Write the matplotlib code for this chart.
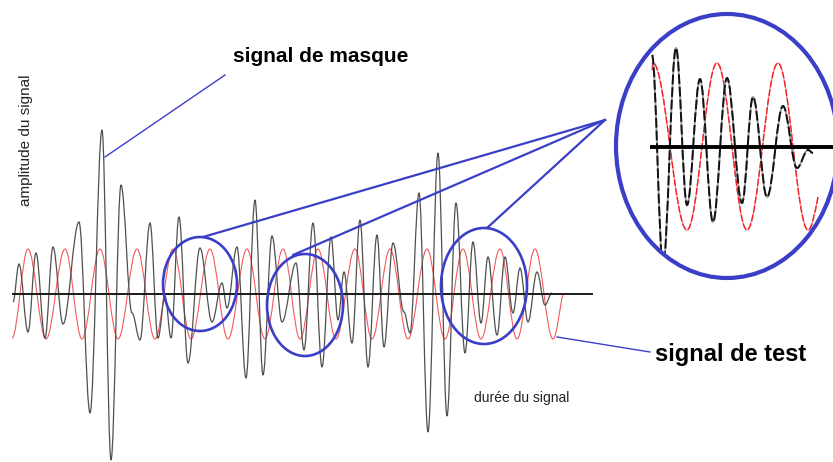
# -*- coding:utf-8 -*-
# schéma : signal de masque / signal de test, avec zoom dans un cercle

import matplotlib
matplotlib.use('Agg')
from matplotlib import pyplot as plt
from matplotlib.path import Path
from matplotlib.patches import PathPatch, Ellipse

# signal de masque : extrema (temps, amplitude)
masque_t = [13, 19, 28, 36, 45, 53, 63, 79, 90, 102, 111, 121, 132, 140, 150, 158, 165, 171,
            179, 188, 200, 212, 222, 227, 237, 246, 255, 263, 272, 282, 296, 304, 313, 322,
            331, 338, 344, 352, 360, 368, 377, 384, 393, 404, 410, 419, 428, 438, 447, 456,
            465, 473, 481, 488, 497, 505, 513, 520, 528, 537, 545, 552]
masque_a = [-8, 30, -38, 41, -44, 47, -30, 72, -119, 164, -166, 109, -19, -46, 71, -44, -2, -44,
            77, -69, 46, -28, 11, -14, 47, -84, 94, -81, 58, -28, 31, -56, 71, -73,
            57, -26, 22, -49, 74, -73, 59, -53, 51, -18, -39, 101, -138, 141, -122, 91,
            -59, 52, -29, 37, -41, 37, -19, 26, -28, 22, -11, 1]

# signal de test : extrema (temps, amplitude)
test_t = [12, 28, 46, 65, 82, 100, 118, 137, 155, 173, 191, 210, 228, 247, 265, 283, 300,
          318, 336, 355, 372, 390, 408, 427, 445, 463, 481, 500, 517, 535, 553, 563]
test_a = [-44, 45, -45, 45, -45, 45, -45, 45, -45, 45, -45, 45, -45, 45, -45, 45, -45,
          45, -45, 45, -45, 45, -45, 45, -45, 45, -45, 45, -45, 45, -45, 0]

# agrandissement (dans le grand cercle)
zoom_masque_t = [652, 663, 676, 687, 700, 713, 727, 742, 753, 767, 783, 797, 808, 813]
zoom_masque_a = [92, -118, 99, -58, 68, -75, 69, -56, 50, -50, 41, -21, -3, -6]
zoom_test_t = [652, 653, 687, 717, 747, 778, 808, 818]
zoom_test_a = [77, 84, -83, 84, -83, 84, -83, -50]

BLEU = '#3b3fc8'


# courbe lisse passant par les extrema (tangentes horizontales)
def smooth_path(xs, ys, k=0.364, end_slope=None):
	verts = [(xs[0], ys[0])]
	codes = [Path.MOVETO]
	for i in range(1, len(xs)):
		dx = xs[i] - xs[i-1]
		c2 = (xs[i] - k*dx, ys[i])
		if end_slope is not None and i == len(xs) - 1:
			c2 = (xs[i] - k*dx, ys[i] - k*dx*end_slope)
		verts += [(xs[i-1] + k*dx, ys[i-1]), c2, (xs[i], ys[i])]
		codes += [Path.CURVE4]*3
	return Path(verts, codes)


def draw():
	fig = plt.figure(figsize=(8.33, 4.62), dpi=100)
	ax = fig.add_axes([0, 0, 1, 1])
	ax.set_xlim(0, 833)
	ax.set_ylim(-168, 294)
	ax.axis('off')

	# signaux principaux
	ax.add_patch(PathPatch(smooth_path(test_t, test_a, end_slope=3.9), fill=False,
	                       edgecolor='#f25a5a', lw=0.8, zorder=2))
	ax.add_patch(PathPatch(smooth_path(masque_t, masque_a), fill=False,
	                       edgecolor='#505050', lw=0.9, zorder=3))
	ax.plot([13, 592], [0, 0], color='#1a1a1a', lw=1.4, zorder=4)

	# cercles de sélection
	for c, w, h in [((200, 10), 74, 94), ((305, -11), 76, 102), ((484, 8), 86, 116)]:
		ax.add_patch(Ellipse(c, w, h, fill=False, edgecolor=BLEU, lw=1.9, zorder=5))

	# lignes vers l'agrandissement
	apex = (605, 174)
	for p in [(203, 57), (293, 39), (487, 66)]:
		ax.plot([p[0], apex[0]], [p[1], apex[1]], color=BLEU, lw=1.6, zorder=5)

	# grand cercle avec l'agrandissement
	big = Ellipse((727, 148), 222, 264, fill=False, edgecolor=BLEU, lw=3.0, zorder=6)
	ax.add_patch(big)
	clip = Ellipse((727, 148), 218, 260, transform=ax.transData)
	zb = 147
	red_path = smooth_path(zoom_test_t, [zb + a for a in zoom_test_a], end_slope=5)
	blk_path = smooth_path(zoom_masque_t, [zb + a for a in zoom_masque_a])
	patches = [
		PathPatch(red_path, fill=False, edgecolor='#f7a0a0', lw=1.0, zorder=4),
		PathPatch(red_path, fill=False, edgecolor='#f02020', lw=1.0, zorder=4,
		          linestyle=(0, (5, 1.5))),
		PathPatch(blk_path, fill=False, edgecolor='#9a9a9a', lw=1.3, zorder=5),
		PathPatch(blk_path, fill=False, edgecolor='#111111', lw=1.4, zorder=5,
		          linestyle=(0, (5, 1.5))),
	]
	for p in patches:
		ax.add_patch(p)
		p.set_clip_path(clip)
	ax.plot([652, 833], [zb, zb], color='black', lw=2.8, zorder=5)

	# étiquettes
	ax.plot([105, 225], [137, 219], color=BLEU, lw=1.0, zorder=5)
	ax.text(321, 237, 'signal de masque', fontsize=15, fontweight='bold',
	        family='Liberation Sans', ha='center', va='center')
	ax.plot([557, 650], [-43, -58], color=BLEU, lw=1.0, zorder=5)
	ax.text(731, -61, 'signal de test', fontsize=17, fontweight='bold',
	        family='Liberation Sans', ha='center', va='center')
	ax.text(26, 154, 'amplitude du signal', fontsize=11, rotation=90,
	        family='Liberation Sans', ha='center', va='center', color='#222222')
	ax.text(522, -104, 'durée du signal', fontsize=10, family='Liberation Sans',
	        ha='center', va='center', color='#222222')

	fig.savefig('out.png', dpi=100)


if __name__ == '__main__':
	draw()
